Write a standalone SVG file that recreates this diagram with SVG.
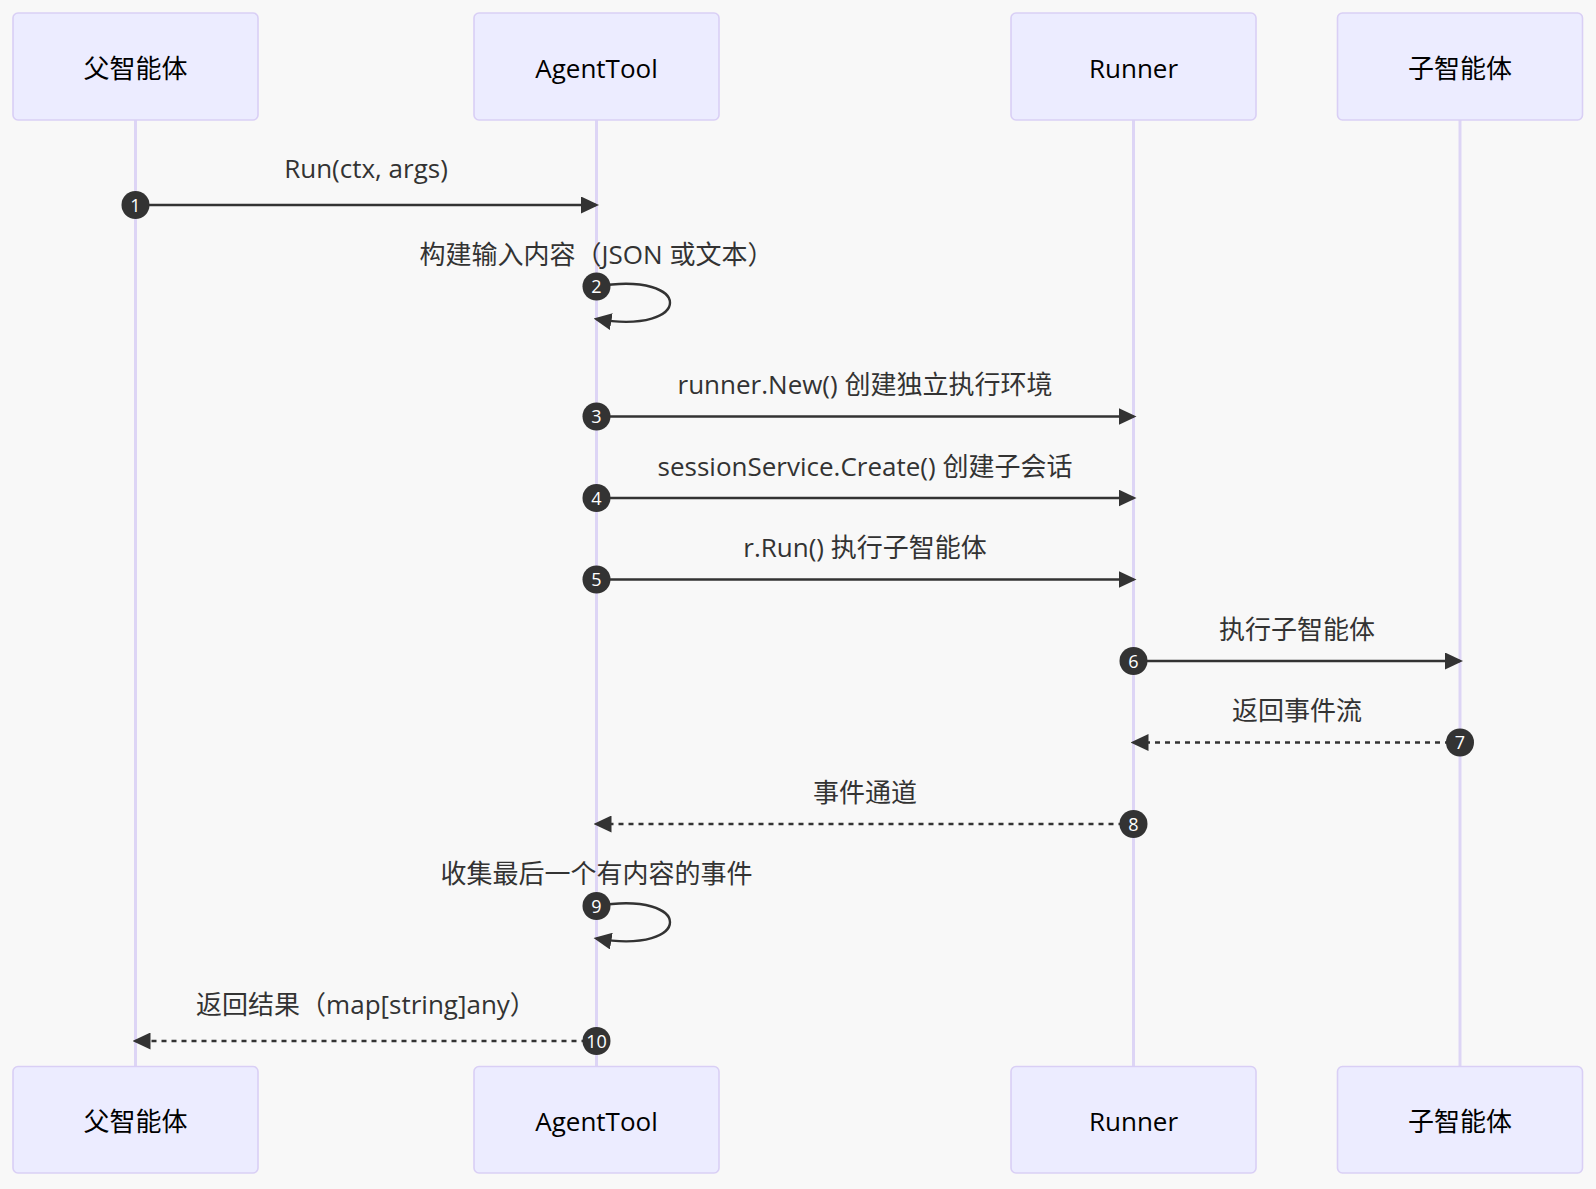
<svg xmlns="http://www.w3.org/2000/svg" width="1596" height="1189" viewBox="0 0 1596 1189">
<style>
.bg{fill:#f8f8f8}
.actor{fill:#ececff;stroke:#d9cff5;stroke-width:1.6}
.atext{font-family:"Open Sans","Noto Sans CJK SC",sans-serif;font-size:26px;fill:#000;text-anchor:middle}
.life{stroke:#ddd5f5;stroke-width:3}
.msg{stroke:#333;stroke-width:2.4;fill:none}
.dash{stroke-dasharray:5 5}
.mtext{font-family:"Open Sans","Noto Sans CJK SC",sans-serif;font-size:26px;fill:#333;text-anchor:middle}
.dot{fill:#333}
.num{font-family:"Open Sans",sans-serif;font-size:18px;fill:#fff;text-anchor:middle}
</style>
<defs>
<marker id="arrow" viewBox="0 0 18 17" markerWidth="18" markerHeight="17" refX="15" refY="8.5" orient="auto" markerUnits="userSpaceOnUse">
<path d="M0,0 L18,8.5 L0,17 z" fill="#333"/>
</marker>
</defs>
<rect class="bg" x="0" y="0" width="1596" height="1189"/>

<g id="lifelines">
<line class="life" x1="135.5" y1="120" x2="135.5" y2="1066"/>
<line class="life" x1="596.5" y1="120" x2="596.5" y2="1066"/>
<line class="life" x1="1133.5" y1="120" x2="1133.5" y2="1066"/>
<line class="life" x1="1460" y1="120" x2="1460" y2="1066"/>
</g>

<g id="parent-top"><rect class="actor" x="13" y="13" width="245" height="107" rx="5"/><text class="atext" x="135.5" y="77.5">父智能体</text></g>
<g id="agenttool-top"><rect class="actor" x="474" y="13" width="245" height="107" rx="5"/><text class="atext" x="596.5" y="77.5">AgentTool</text></g>
<g id="runner-top"><rect class="actor" x="1011" y="13" width="245" height="107" rx="5"/><text class="atext" x="1133.5" y="77.5">Runner</text></g>
<g id="child-top"><rect class="actor" x="1337.5" y="13" width="245" height="107" rx="5"/><text class="atext" x="1460" y="77.5">子智能体</text></g>

<g id="parent-bottom"><rect class="actor" x="13" y="1066.5" width="245" height="106.5" rx="5"/><text class="atext" x="135.5" y="1130.5">父智能体</text></g>
<g id="agenttool-bottom"><rect class="actor" x="474" y="1066.5" width="245" height="106.5" rx="5"/><text class="atext" x="596.5" y="1130.5">AgentTool</text></g>
<g id="runner-bottom"><rect class="actor" x="1011" y="1066.5" width="245" height="106.5" rx="5"/><text class="atext" x="1133.5" y="1130.5">Runner</text></g>
<g id="child-bottom"><rect class="actor" x="1337.5" y="1066.5" width="245" height="106.5" rx="5"/><text class="atext" x="1460" y="1130.5">子智能体</text></g>

<g id="connectors">
<g id="m1">
<text class="mtext" x="366" y="178">Run(ctx, args)</text>
<line class="msg" x1="135.5" y1="205" x2="596" y2="205" marker-end="url(#arrow)"/>
<circle class="dot" cx="135.5" cy="205" r="14"/><text class="num" x="135.5" y="211.5">1</text>
</g>
<g id="m2">
<text class="mtext" x="596.5" y="263.5">构建输入内容（JSON 或文本）</text>
<path class="msg" d="M596.5,286.5 C694.5,270.2 694.5,335.5 596.5,319.1" marker-end="url(#arrow)"/>
<circle class="dot" cx="596.5" cy="286.5" r="14"/><text class="num" x="596.5" y="293">2</text>
</g>
<g id="m3">
<text class="mtext" x="865" y="394">runner.New() 创建独立执行环境</text>
<line class="msg" x1="596.5" y1="416.5" x2="1133.5" y2="416.5" marker-end="url(#arrow)"/>
<circle class="dot" cx="596.5" cy="416.5" r="14"/><text class="num" x="596.5" y="423">3</text>
</g>
<g id="m4">
<text class="mtext" x="865" y="475.5">sessionService.Create() 创建子会话</text>
<line class="msg" x1="596.5" y1="498" x2="1133.5" y2="498" marker-end="url(#arrow)"/>
<circle class="dot" cx="596.5" cy="498" r="14"/><text class="num" x="596.5" y="504.5">4</text>
</g>
<g id="m5">
<text class="mtext" x="865" y="557">r.Run() 执行子智能体</text>
<line class="msg" x1="596.5" y1="579.5" x2="1133.5" y2="579.5" marker-end="url(#arrow)"/>
<circle class="dot" cx="596.5" cy="579.5" r="14"/><text class="num" x="596.5" y="586">5</text>
</g>
<g id="m6">
<text class="mtext" x="1297" y="638.5">执行子智能体</text>
<line class="msg" x1="1133.5" y1="661" x2="1460" y2="661" marker-end="url(#arrow)"/>
<circle class="dot" cx="1133.5" cy="661" r="14"/><text class="num" x="1133.5" y="667.5">6</text>
</g>
<g id="m7">
<text class="mtext" x="1297" y="720">返回事件流</text>
<line class="msg dash" x1="1460" y1="742.5" x2="1133.5" y2="742.5" marker-end="url(#arrow)"/>
<circle class="dot" cx="1460" cy="742.5" r="14"/><text class="num" x="1460" y="749">7</text>
</g>
<g id="m8">
<text class="mtext" x="865" y="801.5">事件通道</text>
<line class="msg dash" x1="1133.5" y1="824" x2="596.5" y2="824" marker-end="url(#arrow)"/>
<circle class="dot" cx="1133.5" cy="824" r="14"/><text class="num" x="1133.5" y="830.5">8</text>
</g>
<g id="m9">
<text class="mtext" x="596.5" y="883">收集最后一个有内容的事件</text>
<path class="msg" d="M596.5,906 C694.5,889.7 694.5,955 596.5,938.6" marker-end="url(#arrow)"/>
<circle class="dot" cx="596.5" cy="906" r="14"/><text class="num" x="596.5" y="912.5">9</text>
</g>
<g id="m10">
<text class="mtext" x="366" y="1014">返回结果（map[string]any）</text>
<line class="msg dash" x1="596.5" y1="1041" x2="135.5" y2="1041" marker-end="url(#arrow)"/>
<circle class="dot" cx="596.5" cy="1041" r="14"/><text class="num" x="596.5" y="1047.5">10</text>
</g>
</g>
</svg>
